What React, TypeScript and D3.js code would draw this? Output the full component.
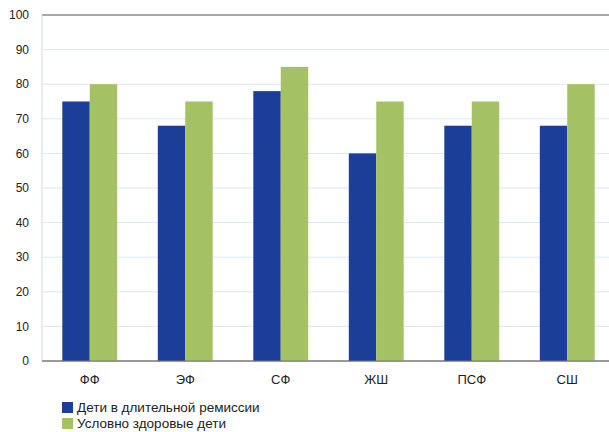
import React from 'react';
import * as d3 from 'd3';

const categories = ['ФФ', 'ЭФ', 'СФ', 'ЖШ', 'ПСФ', 'СШ'];
const remission = [75, 68, 78, 60, 68, 68];
const healthy = [80, 75, 85, 75, 75, 80];
const seriesNames = ['Дети в длительной ремиссии', 'Условно здоровые дети'];
const yTicks = [0, 10, 20, 30, 40, 50, 60, 70, 80, 90, 100];

const colors = ['#1b3f99', '#a4c163'];

export default function App() {
  const width = 609;
  const height = 432;
  const margin = { top: 15, right: -6, bottom: 71, left: 42 };
  const innerW = width - margin.left - margin.right;
  const innerH = height - margin.top - margin.bottom;

  const x = d3.scaleBand().domain(categories).range([0, innerW]).paddingInner(0).paddingOuter(0);
  const xInner = d3.scaleBand().domain(['0', '1']).range([0, x.bandwidth()]).paddingInner(0).paddingOuter(0.74);
  const y = d3.scaleLinear().domain([0, 100]).range([innerH, 0]);

  const series = [remission, healthy];
  const font = '"Liberation Sans", Arial, sans-serif';

  return (
    <svg width={width} height={height} style={{ position: 'absolute', left: 0, top: 0, background: '#fff' }}>
      <g transform={`translate(${margin.left},${margin.top})`}>
        {/* grid */}
        {yTicks.map(t => (
          <line
            key={t}
            x1={0}
            x2={innerW}
            y1={y(t)}
            y2={y(t)}
            stroke={t === 100 ? '#8a8a8a' : t === 0 ? '#777' : '#d6e8f2'}
            strokeWidth={t === 100 ? 1.5 : 1}
          />
        ))}
        <line x1={0} x2={0} y1={0} y2={innerH} stroke="#d0dde6" />
        {/* bars */}
        {categories.map((c, i) => (
          <g key={c} transform={`translate(${x(c)},0)`}>
            {series.map((s, k) => (
              <rect
                key={k}
                x={xInner(String(k))}
                y={y(s[i])}
                width={xInner.bandwidth()}
                height={innerH - y(s[i])}
                fill={colors[k]}
              />
            ))}
          </g>
        ))}
        {/* redraw baseline on top */}
        <line x1={0} x2={innerW} y1={y(0)} y2={y(0)} stroke="#777" />
        {/* y tick labels */}
        {yTicks.map(t => (
          <text
            key={t}
            x={-13}
            y={y(t)}
            dy="0.35em"
            textAnchor="end"
            fontFamily={font}
            fontSize={12}
            fill="#222"
          >
            {t}
          </text>
        ))}
        {/* x labels */}
        {categories.map(c => (
          <text
            key={c}
            x={(x(c) ?? 0) + x.bandwidth() / 2}
            y={innerH + 23}
            textAnchor="middle"
            fontFamily={font}
            fontSize={13}
            fill="#222"
          >
            {c}
          </text>
        ))}
      </g>
      {/* legend */}
      {seriesNames.map((n, k) => (
        <g key={n} transform={`translate(62,${402 + k * 16})`}>
          <rect x={0} y={0} width={11} height={11} fill={colors[k]} />
          <text x={15} y={10} fontFamily={font} fontSize={13.5} fill="#222">
            {n}
          </text>
        </g>
      ))}
    </svg>
  );
}
